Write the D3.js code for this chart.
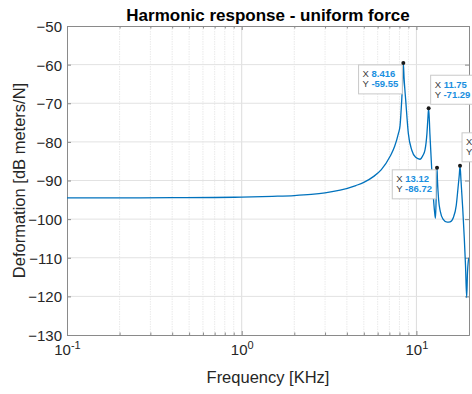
<!DOCTYPE html>
<html>
<head>
<meta charset="utf-8">
<script src="https://cdn.jsdelivr.net/npm/d3@7"></script>
<style>
  html, body { margin: 0; padding: 0; background: #fff; }
  svg { display: block; font-family: Arial, "Liberation Sans", Helvetica, sans-serif; }
  .tick text { fill: #262626; }
</style>
</head>
<body>
<div id="chart"></div>
<script>
// harmonic response (frequency in KHz, deformation in dB)
var freq = [0.1, 0.2, 0.4, 0.7, 1.0, 1.5, 2.0, 2.5, 3.0, 3.66, 4.5, 5.0, 5.67, 6.3, 7.06,
            7.5, 7.89, 8.06, 8.24, 8.34, 8.416, 8.5, 8.684, 8.99, 9.4, 9.9, 10.48, 10.9,
            11.2, 11.49, 11.62, 11.75, 11.95, 12.2, 12.45, 12.7, 12.85, 12.95, 13.05, 13.12,
            13.2, 13.4, 13.7, 14.2, 15.0, 15.6, 16.3, 16.9, 17.3, 17.6, 17.77,
            18.0, 18.4, 18.8, 19.1, 19.4, 19.6, 19.8, 20.0];
var deform = [-94.5, -94.5, -94.45, -94.4, -94.3, -94.1, -93.9, -93.6, -93.2, -92.5, -91.3, -90.5, -89.0, -87.2, -83.8,
              -81.2, -77.8, -75.8, -69.2, -64.5, -59.55, -63.5, -69.2, -77.8, -82.1, -84.0, -84.5, -83.5,
              -82.1, -77.8, -74.3, -71.29, -78.0, -86.0, -93.0, -98.0, -99.8, -96.0, -90.0, -86.72,
              -90.0, -95.0, -98.0, -100.0, -100.8, -100.7, -99.5, -96.5, -92.0, -88.5, -86.2,
              -90.0, -97.0, -105.0, -112.0, -120.3, -114.0, -111.0, -110.0];

// data tips
var tipFreq = [8.416, 11.75, 13.12, 17.77];
var tipDeform = [-59.55, -71.29, -86.72, -86.2];
var tipTextX = ["8.416", "11.75", "13.12", "17.77"];
var tipTextY = ["-59.55", "-71.29", "-86.72", "-86.2"];
var tipSide = ["below", "above", "below", "above"];

// ticks
var yTicks = [-50, -60, -70, -80, -90, -100, -110, -120, -130];
var xMajor = [0.1, 1, 10];
var xMajorExp = ["-1", "0", "1"];
var xMinor = [0.2, 0.3, 0.4, 0.5, 0.6, 0.7, 0.8, 0.9, 2, 3, 4, 5, 6, 7, 8, 9, 20];

var W = 472, H = 394;
var margin = {left: 67, right: 3, top: 26, bottom: 59};
var pw = W - margin.left - margin.right, ph = H - margin.top - margin.bottom;

var svg = d3.select('#chart').append('svg')
  .attr('width', W).attr('height', H);

var x = d3.scaleLog().domain([0.1, 20]).range([0, pw]);
var y = d3.scaleLinear().domain([-130, -50]).range([ph, 0]);

var g = svg.append('g').attr('transform', 'translate(' + margin.left + ',' + margin.top + ')');

// grid
g.append('g').selectAll('line.minor')
  .data(xMinor.filter(function(d){ return d < 20; }))
  .enter().append('line')
    .attr('x1', function(d){ return x(d); }).attr('x2', function(d){ return x(d); })
    .attr('y1', 0).attr('y2', ph)
    .style('stroke', '#e4e4e4').style('stroke-width', 0.8)
    .style('stroke-dasharray', '1.5,1');
g.append('g').selectAll('line.xmaj')
  .data(xMajor.slice(1))
  .enter().append('line')
    .attr('x1', function(d){ return x(d); }).attr('x2', function(d){ return x(d); })
    .attr('y1', 0).attr('y2', ph)
    .style('stroke', '#dcdcdc').style('stroke-width', 1);
g.append('g').selectAll('line.ymaj')
  .data(yTicks.slice(1, -1))
  .enter().append('line')
    .attr('x1', 0).attr('x2', pw)
    .attr('y1', function(d){ return y(d); }).attr('y2', function(d){ return y(d); })
    .style('stroke', '#e2e2e2').style('stroke-width', 1);

// axes: ticks point inward like matlab
var axisColor = '#8a8a8a';
function styleAxis(sel) {
  sel.select('.domain').style('stroke', axisColor);
  sel.selectAll('.tick line').style('stroke', axisColor);
}

var yAxis = g.append('g')
  .call(d3.axisLeft(y).tickValues(yTicks).tickSize(-4).tickSizeOuter(0).tickPadding(5))
  .call(styleAxis);
yAxis.selectAll('text').style('font-size', '15px').attr('dy', '0.36em');

g.append('g').attr('transform', 'translate(' + pw + ',0)')
  .call(d3.axisRight(y).tickValues(yTicks).tickSize(-4).tickSizeOuter(0).tickFormat(''))
  .call(styleAxis);

var xAxis = g.append('g').attr('transform', 'translate(0,' + ph + ')')
  .call(d3.axisBottom(x).tickValues(xMajor).tickSize(-4).tickSizeOuter(0).tickPadding(9)
    .tickFormat(function(){ return ''; }))
  .call(styleAxis);
xAxis.selectAll('.tick text').each(function(d, i) {
  var t = d3.select(this).style('font-size', '15px').attr('dy', '0.71em');
  t.append('tspan').text('10');
  t.append('tspan').attr('dy', '-0.55em').style('font-size', '11px').text(xMajorExp[i]);
});
g.append('g').attr('transform', 'translate(0,' + ph + ')')
  .call(d3.axisBottom(x).tickValues(xMinor).tickSize(-2.5).tickSizeOuter(0).tickFormat(''))
  .call(styleAxis);

g.append('g')
  .call(d3.axisTop(x).tickValues(xMajor).tickSize(-4).tickSizeOuter(0).tickFormat(''))
  .call(styleAxis);
g.append('g')
  .call(d3.axisTop(x).tickValues(xMinor).tickSize(-2.5).tickSizeOuter(0).tickFormat(''))
  .call(styleAxis);

// curve
svg.append('clipPath').attr('id', 'plotclip')
  .append('rect').attr('width', pw).attr('height', ph);

var line = d3.line()
  .x(function(d){ return x(d[0]); })
  .y(function(d){ return y(d[1]); })
  .curve(d3.curveMonotoneX);

g.append('path')
  .datum(d3.zip(freq, deform))
  .attr('clip-path', 'url(#plotclip)')
  .attr('d', line)
  .style('fill', 'none')
  .style('stroke', '#0072BD')
  .style('stroke-width', 1.3);

// data tips
var tips = g.append('g');
tipFreq.forEach(function(f, i) {
  var px = x(f), py = y(tipDeform[i]);
  var tg = tips.append('g');
  var box = tg.append('rect')
    .style('fill', '#fff').style('stroke', '#c9c9c9').style('stroke-width', 1);
  var txt = tg.append('g').style('font-size', '9.5px');
  var l1 = txt.append('text').attr('y', 12.3);
  l1.append('tspan').style('fill', '#404040').text('X ');
  l1.append('tspan').style('fill', '#1a8fe0').style('font-weight', 'bold').text(tipTextX[i]);
  var l2 = txt.append('text').attr('y', 22.5);
  l2.append('tspan').style('fill', '#404040').text('Y ');
  l2.append('tspan').style('fill', '#1a8fe0').style('font-weight', 'bold').text(tipTextY[i]);
  var tw = Math.max(l1.node().getComputedTextLength(), l2.node().getComputedTextLength());
  var bw = tw + 8, bh = 29;
  l1.attr('x', 4); l2.attr('x', 4);
  box.attr('width', bw).attr('height', bh);
  var bx, by;
  if (tipSide[i] === 'below') { bx = px - 1 - bw; by = py + 2; }
  else { bx = px + 2; by = py - 4 - bh; }
  tg.attr('transform', 'translate(' + bx + ',' + by + ')');
  tips.append('circle').attr('cx', px).attr('cy', py).attr('r', 2)
    .style('fill', '#1a1a1a');
});

// labels
svg.append('text')
  .attr('x', margin.left + pw / 2).attr('y', 21)
  .attr('text-anchor', 'middle')
  .style('font-size', '17px').style('font-weight', 'bold').style('fill', '#000')
  .text('Harmonic response - uniform force');

svg.append('text')
  .attr('x', margin.left + pw / 2).attr('y', 383)
  .attr('text-anchor', 'middle')
  .style('font-size', '16.5px').style('fill', '#262626')
  .text('Frequency [KHz]');

svg.append('text')
  .attr('transform', 'translate(25,' + (margin.top + ph / 2) + ') rotate(-90)')
  .attr('text-anchor', 'middle')
  .style('font-size', '16.5px').style('fill', '#262626')
  .text('Deformation [dB meters/N]');
</script>
</body>
</html>
